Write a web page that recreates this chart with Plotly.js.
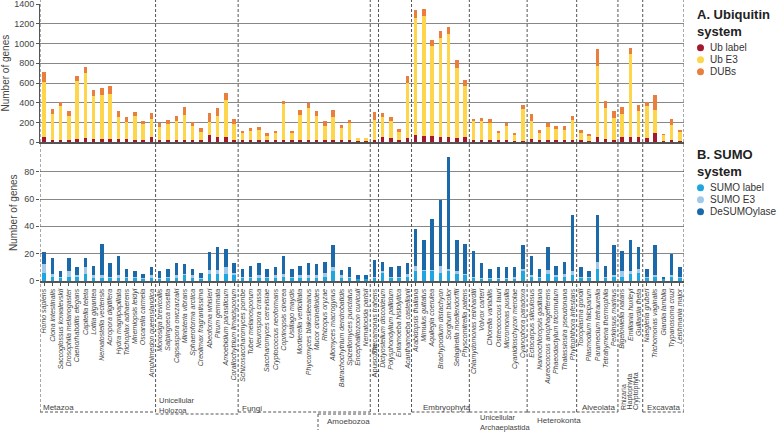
<!DOCTYPE html>
<html>
<head>
<meta charset="utf-8">
<script src="https://cdn.plot.ly/plotly-3.0.1.min.js"></script>
<style>html,body{margin:0;padding:0;background:#fff}#chart{width:778px;height:433px}</style>
</head>
<body>
<div id="chart"></div>
<script>
const species = ["Homo sapiens","Ciona intestinalis","Saccoglossus kowalevskii","Drosophila melanogaster","Caenorhabditis elegans","Capitella teleta","Lottia gigantea","Nematostella vectensis","Acropora digitifera","Hydra magnipapillata","Trichoplax adhaerens","Mnemiopsis leidyi","Oscarella carmela","Amphimedon queenslandica",
"Monosiga brevicollis","Salpingoeca rosetta","Capsaspora owczarzaki","Ministeria vibrans","Sphaeroforma arctica","Creolimax fragrantissima","Abeoforma whisleri","Pirum gemmata","Amoebidium parasiticum","Corallochytrium limacisporum",
"Schizosaccharomyces pombe","Tuber melanosporum","Neurospora crassa","Saccharomyces cerevisiae","Cryptococcus neoformans","Coprinopsis cinerea","Ustilago maydis","Mortierella verticillata","Phycomyces blakesleeanus","Mucor circinelloides","Rhizopus oryzae","Allomyces macrogynus","Batrachochytrium dendrobatidis","Spizellomyces punctatus","Encephalitozoon cuniculi","Nematocida parisii",
"Thecamonas trahens",
"Dictyostelium discoideum","Polysphondylium pallidum","Entamoeba histolytica","Acanthamoeba castellanii",
"Arabidopsis thaliana","Mimulus guttatus","Aquilegia coerulea","Brachypodium distachyon","Sorghum bicolor","Selaginella moellendorffii","Physcomitrella patens",
"Chlamydomonas reinhardtii","Volvox carteri","Chlorella variabilis","Ostreococcus tauri","Micromonas pusilla","Cyanidioschyzon merolae","Cyanophora paradoxa",
"Ectocarpus siliculosus","Nannochloropsis gaditana","Aureococcus anophagefferens","Phaeodactylum tricornutum","Thalassiosira pseudonana","Phytophthora infestans",
"Toxoplasma gondii","Plasmodium falciparum","Paramecium tetraurelia","Tetrahymena thermophila","Perkinsus marinus",
"Bigelowiella natans","Emiliania huxleyi","Guillardia theta",
"Naegleria gruberi","Trichomonas vaginalis","Giardia lamblia","Trypanosoma cruzi","Leishmania major"];

const ubLabel = [50,24,20,24,30,44,34,34,30,34,27,20,20,47, 17,20,24,24,20,17,68,51,51,24, 20,20,20,17,17,20,17,24,24,24,20,24,20,20,10,10, 24, 51,37,17,44, 68,57,61,51,51,37,47, 24,20,20,17,17,14,14, 30,17,20,17,20,24, 17,14,51,30,24, 51,47,47, 37,91,14,20,14];
const ubE3 = [565,260,348,246,595,662,436,446,463,216,179,244,159,186, 132,159,192,250,142,88,138,216,372,162, 71,95,105,47,71,365,74,253,321,243,139,233,119,179,27,27, 202, 199,173,88,561, 1189,1227,919,1010,1044,713,524, 189,190,176,71,142,57,327, 180,74,135,115,108,196, 74,43,723,315,223, 233,845,271, 325,237,54,156,87];
const dubs = [100,54,37,44,48,61,61,71,75,61,54,44,37,58, 44,47,48,78,41,37,88,81,77,44, 24,27,30,24,27,37,21,51,47,47,54,74,37,24,7,7, 75, 44,47,30,64, 85,68,58,68,71,85,61, 24,37,34,27,34,20,38, 77,27,44,30,34,47, 34,21,176,77,67, 68,68,61, 43,149,13,57,27];

const sumoLabel = [6,3,2,3,3,5,2,2,2,2,2,2,1,2, 1,2,2,4,2,1,5,5,5,4, 2,2,2,2,2,3,2,2,2,2,3,7,2,2,1,1, 2, 6,2,2,3, 7,7,7,6,7,5,4, 2,1,1,1,1,1,7, 3,2,5,3,3,4, 2,2,9,2,3, 3,5,6, 2,3,1,3,2];
const sumoE3 = [6,2,1,4,1,5,2,2,1,2,1,1,1,2, 1,1,2,1,2,1,3,3,5,2, 1,1,2,1,2,2,1,2,2,2,3,3,2,1,0,0, 1, 1,1,1,2, 4,1,1,5,2,2,1, 1,1,1,1,1,2,2, 1,1,3,1,2,3, 1,1,5,1,1, 4,2,3, 1,1,0,1,1];
const desumo = [9,12,4,10,6,7,7,23,10,14,6,4,3,6, 5,6,9,7,5,4,13,17,13,7, 6,8,9,6,6,13,6,7,9,8,8,16,4,7,3,3, 12, 7,7,8,8, 27,22,37,48,82,23,22, 19,11,7,8,8,7,17, 14,6,17,7,9,41, 7,4,34,8,22, 15,23,16, 6,22,2,16,7];

const topTicks = [0,200,400,600,800,1000,1200,1400];
const botTicks = [0,20,40,60,80];
const ubNames = ["Ub label","Ub E3","DUBs"];
const sumoNames = ["SUMO label","SUMO E3","DeSUMOylase"];

const idx = species.map((s,i)=>i);
const FONT = "Liberation Sans, Arial, sans-serif";

const cUb = ['#a31a30','#fdd64b','#ea7e3c'];
const cSumo = ['#1ea6e0','#9fcaec','#1c69aa'];

function bar(y, color, ya, name){ return {type:'bar', name:name, x: idx, y: y, marker:{color: color, line:{width:0}}, xaxis: ya==='y'?'x':'x2', yaxis: ya, showlegend:false, hoverinfo:'skip'}; }

const data = [
  bar(ubLabel, cUb[0], 'y', ubNames[0]), bar(ubE3, cUb[1], 'y', ubNames[1]), bar(dubs, cUb[2], 'y', ubNames[2]),
  bar(sumoLabel, cSumo[0], 'y2', sumoNames[0]), bar(sumoE3, cSumo[1], 'y2', sumoNames[1]), bar(desumo, cSumo[2], 'y2', sumoNames[2])
];

// pixel helpers (plot area: x 40..684, y 4..281)
const py = p => (281 - p) / 277;
const px = p => (p - 40) / 644;

const DASH = {color:'#555', width:1, dash:'3px,2px'};
const bounds = [-0.5, 13.5, 23.5, 39.5, 40.5, 44.5, 51.5, 58.5, 64.5, 69.5, 72.5, 77.5];
const shapes = [];
bounds.forEach(b => {
  shapes.push({type:'line', xref:'x', yref:'paper', x0:b, x1:b, y0: py(412), y1: py(0), line:DASH, layer:'above'});
});
// group box bottoms
[[-0.5,13.5,412],[13.5,23.5,414],[23.5,39.5,412],[44.5,51.5,412],[51.5,58.5,412],[58.5,64.5,412],[64.5,69.5,412],[72.5,77.5,412]].forEach(g=>{
  shapes.push({type:'line', xref:'x', yref:'paper', x0:g[0], x1:g[1], y0:py(g[2]), y1:py(g[2]), line:DASH});
});
// Amoebozoa bracket
shapes.push({type:'line', xref:'paper', yref:'paper', x0:px(318), x1:px(411.7), y0:py(414), y1:py(414), line:DASH});
shapes.push({type:'line', xref:'paper', yref:'paper', x0:px(318), x1:px(318), y0:py(414), y1:py(430), line:DASH});

const ann = [];
function gl(text, x, p, anchor, angle, yanc, size){ ann.push({text:text, xref:'x', yref:'paper', x:x, y:py(p), xanchor:anchor||'left', yanchor:yanc||'middle', showarrow:false, textangle: angle||0, align:'left', font:{family:FONT, size:size||8, color:'#444'}}); }
gl('Metazoa', -0.35, 407);
gl('Unicellular<br>Holozoa', 13.7, 405, 'left', 0, 'middle', 7.5);
gl('Fungi', 23.7, 408);
gl('Apusozoa', 40, 360, 'center', -90, 'middle', 7.5);
gl('Amoebozoa', 36.9, 421, 'center');
gl('Embryophyta', 45.7, 407);
gl('Unicellular<br>Archaeplastida', 52.6, 422, 'left', 0, 'middle', 7.5);
gl('Heterokonta', 59.5, 420);
gl('Alveolata', 69.4, 407, 'right');
gl('Rhizaria', 70.1, 412, 'center', -90, 'bottom', 7);
gl('Haptophyta', 70.9, 412, 'center', -90, 'bottom', 7);
gl('Cryptophyta', 71.7, 412, 'center', -90, 'bottom', 7);
gl('Excavata', 72.8, 407);

// legends drawn as annotations + circle markers
function legendBlock(title, tTop, names, colors, itemY){
  ann.push({text:'<b>'+title+'</b>', xref:'paper', yref:'paper', x:px(695), y:py(tTop), xanchor:'left', yanchor:'top', align:'left', showarrow:false, font:{family:FONT, size:13, color:'#222'}});
  names.forEach((n,i)=>{
    const yy = itemY + i*12;
    shapes.push({type:'circle', xref:'paper', yref:'paper', xsizemode:'pixel', ysizemode:'pixel', xanchor:px(700.5), yanchor:py(yy), x0:-3.5, x1:3.5, y0:-3.5, y1:3.5, fillcolor:colors[i], line:{width:0}});
    ann.push({text:n, xref:'paper', yref:'paper', x:px(708), y:py(yy), xanchor:'left', yanchor:'middle', showarrow:false, font:{family:FONT, size:10, color:'#333'}});
  });
}
legendBlock('A. Ubiquitin<br>system', 5, ubNames, cUb, 47.7);
legendBlock('B. SUMO<br>system', 145, sumoNames, cSumo, 187.7);

const axTitleFont = {family:FONT, size:10, color:'#444'};
const tickFont = {family:FONT, size:9, color:'#444'};

const layout = {
  width:778, height:433,
  margin:{l:40, r:94, t:4, b:152},
  paper_bgcolor:'#fff', plot_bgcolor:'#fff',
  barmode:'stack', bargap:0.58,
  showlegend:false,
  font:{family:FONT, color:'#444'},
  xaxis:{domain:[0,1], anchor:'y', type:'linear', range:[-0.5,77.5], showticklabels:false, ticks:'', showgrid:false, zeroline:false, showline:true, linecolor:'#555', linewidth:2},
  xaxis2:{domain:[0,1], anchor:'y2', type:'linear', range:[-0.5,77.5], tickmode:'array', tickvals: idx, ticktext: species.map(s=>'<i>'+s+'</i>'), tickangle:-90, tickfont:{family:FONT, size:7, color:'#444'}, ticks:'outside', ticklen:3, tickcolor:'#555', showgrid:false, zeroline:false, showline:true, linecolor:'#555', linewidth:2, ticklabeloverflow:'allow'},
  yaxis:{domain:[0.5007,1], range:[-2,1402], tickmode:'array', tickvals: topTicks, ticktext: topTicks.map(String), tickfont: tickFont, ticks:'outside', ticklen:3, tickcolor:'#555', ticklabeloverflow:'allow', showgrid:true, gridcolor:'#888', gridwidth:1, zeroline:false, showline:true, linecolor:'#555', linewidth:1, title:{text:'Number of genes', font: axTitleFont, standoff:4}},
  yaxis2:{domain:[0,0.4928], range:[-0.15,100], tickmode:'array', tickvals: botTicks, ticktext: botTicks.map(String), tickfont: tickFont, ticks:'outside', ticklen:3, tickcolor:'#555', ticklabeloverflow:'allow', showgrid:true, gridcolor:'#888', gridwidth:1, zeroline:false, showline:false, title:{text:'Number of genes', font: axTitleFont, standoff:4}},
  shapes: shapes,
  annotations: ann
};

Plotly.newPlot('chart', data, layout, {displayModeBar:false, staticPlot:true});
</script>
</body>
</html>
